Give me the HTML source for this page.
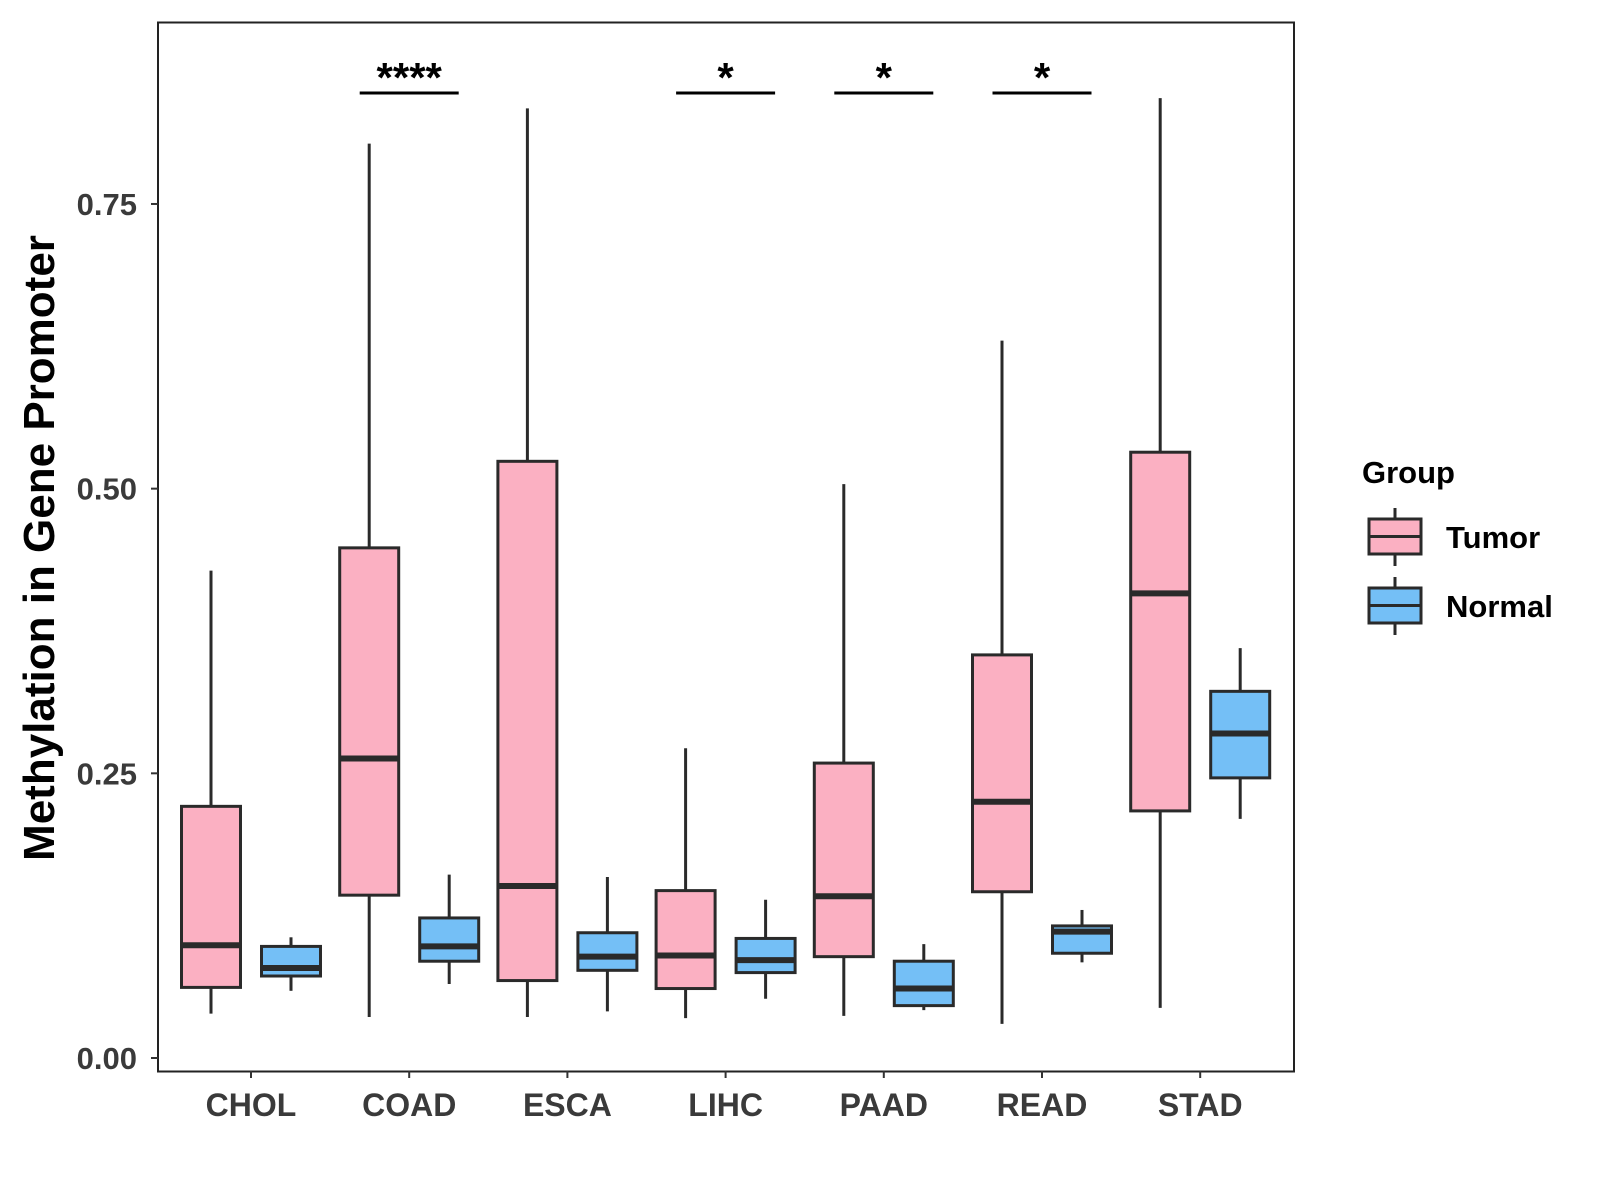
<!DOCTYPE html>
<html><head><meta charset="utf-8"><style>body{margin:0;background:#fff}svg{display:block}text{font-family:"Liberation Sans",sans-serif;font-weight:bold}</style></head>
<body>
<svg id="chart" width="1600" height="1200">
<rect x="158" y="22.5" width="1136" height="1049" fill="#fff" stroke="#222" stroke-width="2"/>
<g id="marks"></g>
<text x="54" y="548" font-size="44" text-anchor="middle" transform="rotate(-90 54 548)">Methylation in Gene Promoter</text>
<g>
<text x="1362" y="483" font-size="31">Group</text>
<g>
<line x1="1395" x2="1395" y1="508" y2="566" stroke="#2a2a2a" stroke-width="3"/>
<rect x="1369" y="519" width="52" height="35" fill="#FBB0C2" stroke="#2a2a2a" stroke-width="3"/>
<line x1="1369" x2="1421" y1="536.5" y2="536.5" stroke="#2a2a2a" stroke-width="3"/>
<text x="1446" y="548" font-size="31">Tumor</text></g>
<g>
<line x1="1395" x2="1395" y1="577" y2="635" stroke="#2a2a2a" stroke-width="3"/>
<rect x="1369" y="588" width="52" height="35" fill="#74BFF6" stroke="#2a2a2a" stroke-width="3"/>
<line x1="1369" x2="1421" y1="605.5" y2="605.5" stroke="#2a2a2a" stroke-width="3"/>
<text x="1446" y="617" font-size="31">Normal</text></g>
</g>
</svg>
<script>
const categories=["CHOL","COAD","ESCA","LIHC","PAAD","READ","STAD"];
const tumorStats=[[0.039,0.062,0.099,0.221,0.428],[0.036,0.143,0.263,0.448,0.803],[0.036,0.068,0.151,0.524,0.834],[0.035,0.061,0.090,0.147,0.272],[0.037,0.089,0.142,0.259,0.504],[0.030,0.146,0.225,0.354,0.630],[0.044,0.217,0.408,0.532,0.843]];
const normalStats=[[0.059,0.072,0.079,0.098,0.106],[0.065,0.085,0.098,0.123,0.161],[0.041,0.077,0.089,0.110,0.159],[0.052,0.075,0.086,0.105,0.139],[0.042,0.046,0.061,0.085,0.100],[0.084,0.092,0.111,0.116,0.130],[0.210,0.246,0.285,0.322,0.360]];
const yTicks=[0,0.25,0.5,0.75];
const yTickLabels=["0.00","0.25","0.50","0.75"];
const sigLabels=["","****","","*","*","*",""];
const NS="http://www.w3.org/2000/svg";
const g=document.getElementById("marks");
function y(v){return 1058-v*1138.7;}
function x(i){return 251+i*158.2;}
function mk(t,a,p){const e=document.createElementNS(NS,t);for(const k in a)e.setAttribute(k,a[k]);(p||g).appendChild(e);return e;}
yTicks.forEach((v,i)=>{
 const l=mk("line",{x1:151,x2:158,y1:y(v),y2:y(v),stroke:"#333","stroke-width":2});
 
 
 const t=mk("text",{x:137,y:y(v)+11,"font-size":31,"text-anchor":"end",fill:"#3a3a3a"});t.textContent=yTickLabels[i];
 
 
});
categories.forEach((c,i)=>{
 const l=mk("line",{x1:x(i),x2:x(i),y1:1071,y2:1078,stroke:"#333","stroke-width":2});
 
 
 const t=mk("text",{x:x(i),y:1116,"font-size":32,"text-anchor":"middle",fill:"#3a3a3a"});t.textContent=c;
 
 
 [[tumorStats[i],-40,"#FBB0C2","tumor"],[normalStats[i],40,"#74BFF6","normal"]].forEach(([s,off,col,nm])=>{
  const cx=x(i)+off,w=59;
  const grp=mk("g",{});
  
  
  mk("line",{x1:cx,x2:cx,y1:y(s[0]),y2:y(s[4]),stroke:"#2a2a2a","stroke-width":3},grp);
  mk("rect",{x:cx-w/2,y:y(s[3]),width:w,height:y(s[1])-y(s[3]),fill:col,stroke:"#2a2a2a","stroke-width":3},grp);
  mk("line",{x1:cx-w/2,x2:cx+w/2,y1:y(s[2]),y2:y(s[2]),stroke:"#2a2a2a","stroke-width":6},grp);
 });
 if(sigLabels[i]){
  const l2=mk("line",{x1:x(i)-49.5,x2:x(i)+49.5,y1:93,y2:93,stroke:"#000","stroke-width":3});
  
  
  const t2=mk("text",{x:x(i),y:92,"font-size":42,"text-anchor":"middle"});t2.textContent=sigLabels[i];
  
  
 }
});
</script>
</body></html>
